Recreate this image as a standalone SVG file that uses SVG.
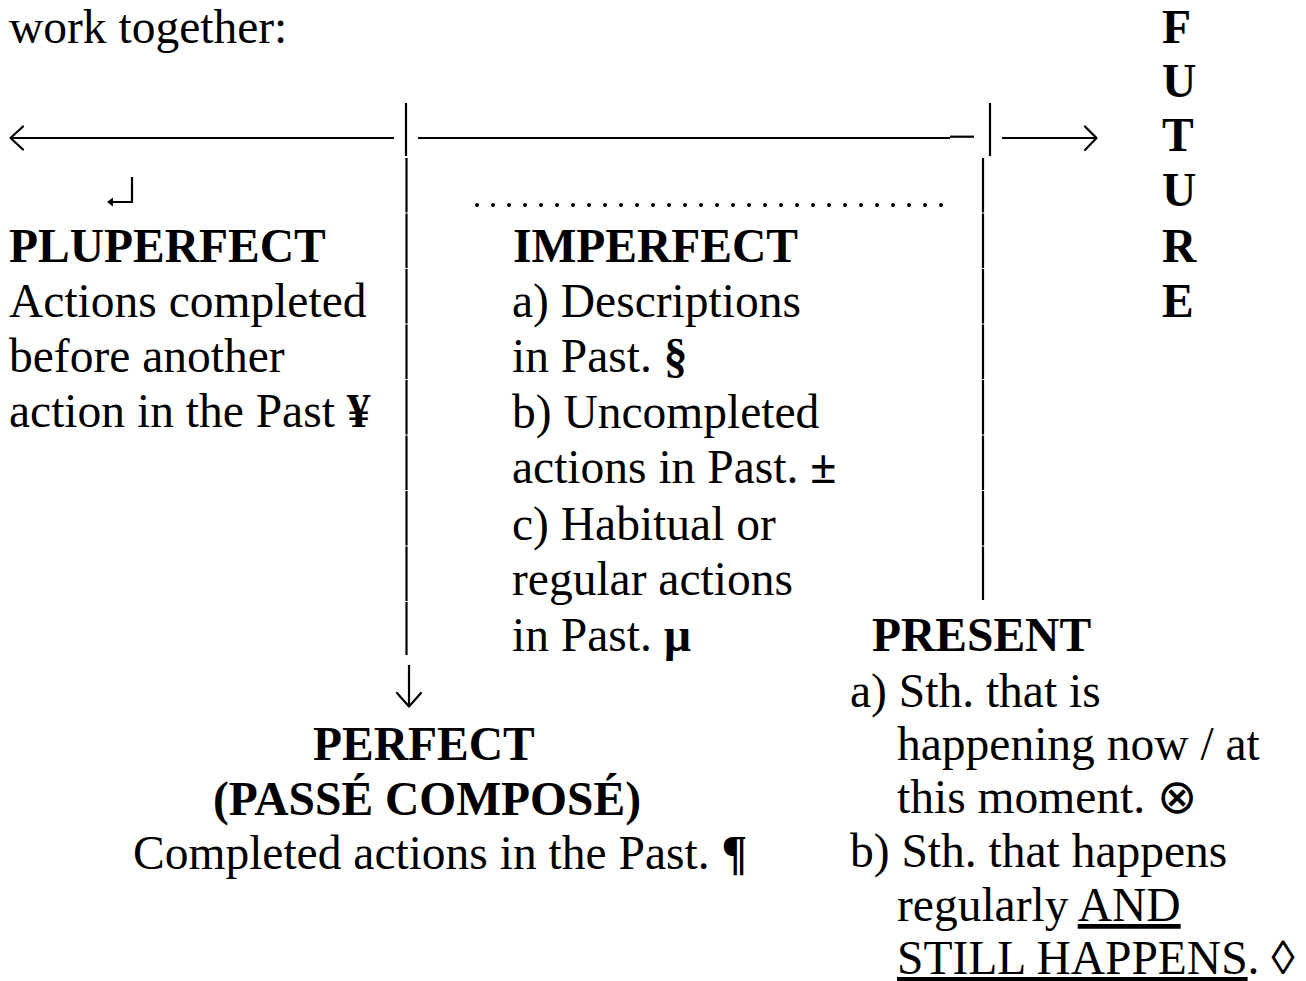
<svg xmlns="http://www.w3.org/2000/svg" width="1306" height="981" viewBox="0 0 1306 981">
<style>
text{font-family:"Liberation Serif","Times New Roman",serif;font-size:47.5px;fill:#000}
.b{font-weight:bold}
.ln{stroke:#000;stroke-width:2.2;fill:none;stroke-linecap:butt}
.ah{stroke:#000;stroke-width:2.2;fill:none;stroke-linecap:round;stroke-linejoin:round}
.u{text-decoration:underline}
</style>
<rect width="1306" height="981" fill="#fff"/>
<text x="9" y="43">work together:</text>

<g id="connectors">
  <line class="ln" x1="10" y1="138" x2="394" y2="138"/>
  <path class="ah" d="M23,126.5 L10.5,138 L23,149.5"/>
  <line class="ln" x1="406" y1="103" x2="406" y2="156"/>
  <line class="ln" x1="418" y1="138" x2="950" y2="138"/>
  <line class="ln" x1="950" y1="136.7" x2="974" y2="136.7"/>
  <line class="ln" x1="990" y1="103" x2="990" y2="156"/>
  <line class="ln" x1="1002" y1="138" x2="1096" y2="138"/>
  <path class="ah" d="M1085,126.5 L1096.5,138 L1085,150"/>
  <line class="ln" x1="406.5" y1="158" x2="406.5" y2="655" stroke-dasharray="54.5 1"/>
  <line class="ln" x1="409" y1="665" x2="409" y2="706"/>
  <path class="ah" d="M397,693 L409,706.5 L421,693"/>
  <line class="ln" x1="983" y1="158" x2="983" y2="600" stroke-dasharray="54.5 1"/>
  <path class="ln" d="M132,177 V202 H110"/>
  <path d="M107,202 L113,197.5 L113,206.5 Z" fill="#000"/>
  <line x1="477" y1="205" x2="945" y2="205" stroke="#000" stroke-width="4" stroke-linecap="round" stroke-dasharray="0 16"/>
</g>

<g id="future">
  <text class="b" x="1162" y="43">F</text>
  <text class="b" x="1162" y="97">U</text>
  <text class="b" x="1162" y="151">T</text>
  <text class="b" x="1162" y="206">U</text>
  <text class="b" x="1162" y="262">R</text>
  <text class="b" x="1162" y="317">E</text>
</g>

<g id="pluperfect">
  <text class="b" x="9" y="262">PLUPERFECT</text>
  <text x="9" y="317">Actions completed</text>
  <text x="9" y="372">before another</text>
  <text x="9" y="427">action in the Past <tspan class="b">¥</tspan></text>
</g>

<g id="imperfect">
  <text class="b" x="513" y="262">IMPERFECT</text>
  <text x="512" y="317">a) Descriptions</text>
  <text x="512" y="372">in Past. <tspan class="b">§</tspan></text>
  <text x="512" y="428">b) Uncompleted</text>
  <text x="512" y="483">actions in Past. <tspan class="b">±</tspan></text>
  <text x="512" y="540">c) Habitual or</text>
  <text x="512" y="595">regular actions</text>
  <text x="512" y="651">in Past. <tspan class="b">µ</tspan></text>
</g>

<g id="present">
  <text class="b" x="872" y="651">PRESENT</text>
  <text x="850" y="707">a) Sth. that is</text>
  <text x="897" y="760">happening now / at</text>
  <text x="897" y="813">this moment. ⊗</text>
  <text x="850" y="867">b) Sth. that happens</text>
  <text x="897" y="921">regularly <tspan class="u">AND</tspan></text>
  <text x="897" y="974"><tspan class="u">STILL HAPPENS</tspan>. ◊</text>
</g>

<g id="perfect">
  <text class="b" x="313" y="760">PERFECT</text>
  <text class="b" x="213" y="815">(PASSÉ COMPOSÉ)</text>
  <text x="133" y="869">Completed actions in the Past. <tspan class="b">¶</tspan></text>
</g>
</svg>
